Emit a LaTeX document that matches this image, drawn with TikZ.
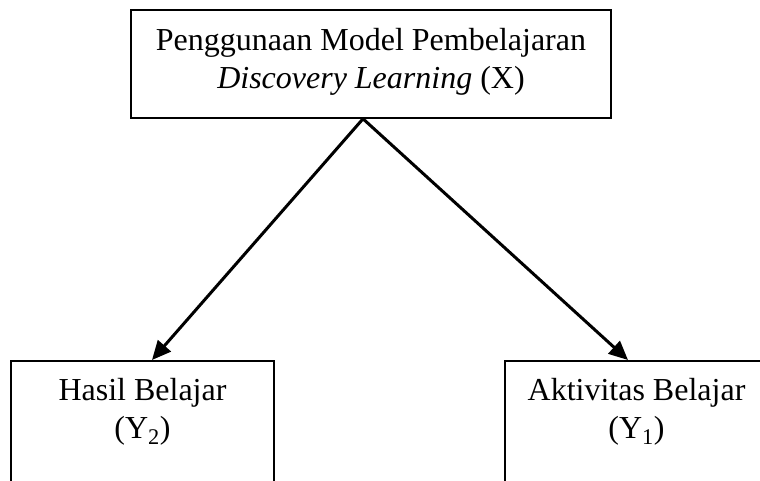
\documentclass[tikz,border=0pt]{standalone}
\usepackage{fontspec}
\setmainfont{Liberation Serif}
\usetikzlibrary{arrows.meta,calc}
\begin{document}
\begin{tikzpicture}[x=1pt,y=1pt,
  box/.style={draw=black,line width=1.6pt,inner sep=0pt},
  boxtext/.style={align=center,font=\fontsize{32}{38}\selectfont,inner sep=0pt},
  conn/.style={line width=3pt,-{Triangle[length=19pt,width=17pt]}}]
\clip (0,0) rectangle (760,-481);
\node[box,minimum width=480,minimum height=108] (top) at (371,-64) {};
\node[boxtext] (tx) at ($(top.center)+(0,2.5)$)
  {Penggunaan Model Pembelajaran\\\textit{Discovery Learning} (X)};
\node[box,anchor=north,minimum width=263,minimum height=180] (y2) at (142.5,-360) {};
\node[box,anchor=north,minimum width=263,minimum height=180] (y1) at (636.5,-360) {};
\node[boxtext,anchor=north] (t2) at ($(y2.north)+(0,-18)$) {Hasil Belajar\\(Y\textsubscript{2})};
\node[boxtext,anchor=north] (t1) at ($(y1.north)+(0,-18)$) {Aktivitas Belajar\\(Y\textsubscript{1})};
\coordinate (apex) at ($(top.south)+(-8,0)$);
\draw[conn] (apex) -- ($(y2.north)+(9.5,0)$);
\draw[conn] (apex) -- ($(y1.north)+(-8.5,0)$);
\end{tikzpicture}
\end{document}
